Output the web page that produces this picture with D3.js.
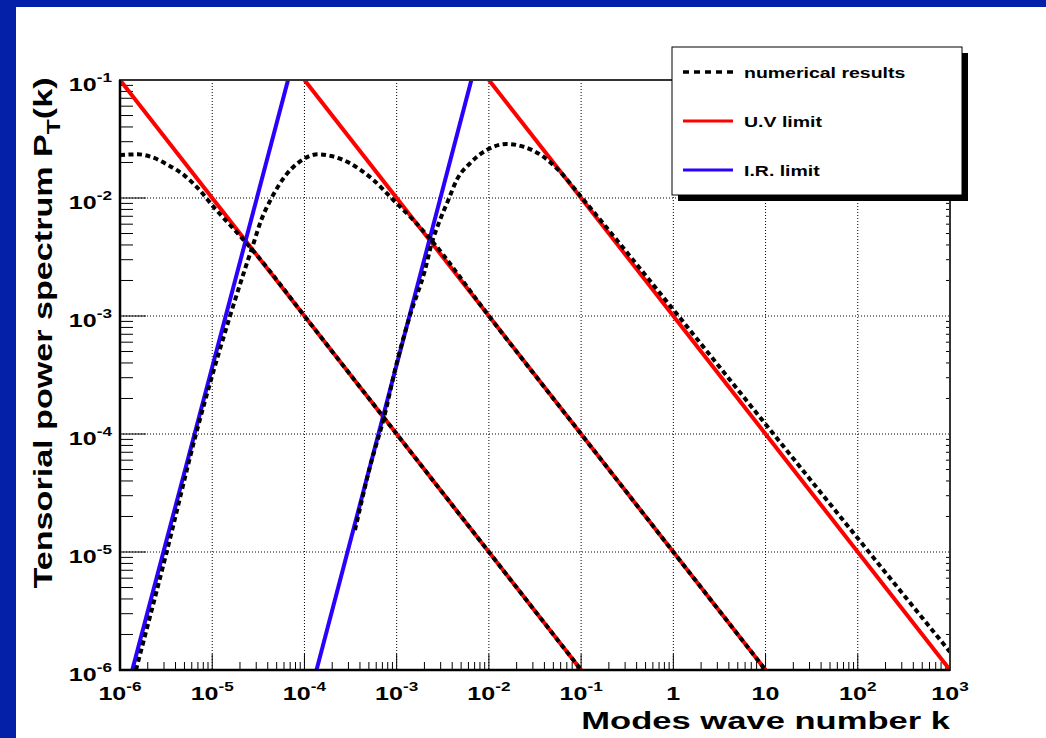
<!DOCTYPE html>
<html>
<head>
<meta charset="utf-8">
<script src="https://cdn.jsdelivr.net/npm/d3@7"></script>
<style>
  html, body { margin: 0; padding: 0; background: #ffffff; }
  svg { display: block; }
  text { font-family: "Liberation Sans", Arial, Helvetica, sans-serif; font-weight: bold; fill: #000; }
</style>
</head>
<body>
<div id="chart"></div>
<script>
// ---------------- data (log10 values) ----------------
const xTickExponents = [-6, -5, -4, -3, -2, -1, 0, 1, 2, 3];
const yTickExponents = [-1, -2, -3, -4, -5, -6];

// numerical results: three curves, [log10 k, log10 P]
const numerical1 = [
  [-6.0, -1.636], [-5.805, -1.630], [-5.65, -1.655], [-5.48, -1.72], [-5.30, -1.81],
  [-5.154, -1.918], [-4.973, -2.087], [-4.756, -2.271], [-4.5, -2.5], [-4.0, -3.0],
  [-3.0, -4.0], [-2.0, -5.0], [-1.0, -6.0]
];
const numerical2 = [
  [-5.827, -6.0], [-5.494, -5.0], [-5.176, -4.0], [-4.807, -3.0], [-4.648, -2.61],
  [-4.558, -2.398], [-4.468, -2.186], [-4.359, -2.003], [-4.214, -1.819], [-4.051, -1.692],
  [-3.853, -1.630], [-3.709, -1.644], [-3.506, -1.706], [-3.253, -1.847], [-3.036, -2.017],
  [-2.820, -2.186], [-2.638, -2.345], [-2.0, -3.0], [-1.0, -4.0], [0.0, -5.0], [1.0, -6.0]
];
const numerical3 = [
  [-3.452, -4.814], [-3.289, -4.277], [-3.126, -3.825], [-3.018, -3.458], [-2.855, -2.994],
  [-2.693, -2.610], [-2.620, -2.384], [-2.530, -2.186], [-2.440, -2.017], [-2.349, -1.847],
  [-2.205, -1.706], [-2.024, -1.593], [-1.807, -1.542], [-1.627, -1.565], [-1.410, -1.650],
  [-1.229, -1.777], [-1.0, -1.99], [0.0, -2.946], [1.0, -3.917], [2.0, -4.884], [3.0, -5.847]
];
// U.V limit lines (P ~ 1/k), endpoints
const uvLimit1 = [[-6, -1], [-1, -6]];
const uvLimit2 = [[-4, -1], [1, -6]];
const uvLimit3 = [[-2, -1], [3, -6]];
// I.R. limit lines (P ~ k^3), endpoints
const irLimit1 = [[-5.867, -6], [-4.178, -1]];
const irLimit2 = [[-3.869, -6], [-2.190, -1]];

const legendLabels = ["numerical results", "U.V limit", "I.R. limit"];

// ---------------- layout ----------------
const W = 1046, H = 738;
const frame = { left: 120, right: 950, top: 80, bottom: 670 };
const SX = 1.32; // horizontal text stretch of the original rendering
const RED = "#ff0000", BLUE = "#2a00ff", BG = "#0420a8";

const svg = d3.select("#chart").append("svg").attr("width", W).attr("height", H);

// background: blue border
svg.append("rect").attr("x", 0).attr("y", 0).attr("width", W).attr("height", H).attr("fill", BG);
svg.append("rect").attr("x", 16).attr("y", 7).attr("width", W - 16).attr("height", H - 7).attr("fill", "#ffffff");

const x = d3.scaleLog().domain([1e-6, 1e3]).range([frame.left, frame.right]);
const y = d3.scaleLog().domain([1e-6, 1e-1]).range([frame.bottom, frame.top]);
const P = v => Math.pow(10, v);

// grid (dotted)
const grid = svg.append("g");
xTickExponents.slice(1, -1).forEach(e => {
  grid.append("line").attr("x1", x(P(e))).attr("x2", x(P(e)))
    .attr("y1", frame.top).attr("y2", frame.bottom)
    .attr("stroke", "#000").attr("stroke-width", 1).attr("stroke-dasharray", "1,2");
});
yTickExponents.slice(1, -1).forEach(e => {
  grid.append("line").attr("y1", y(P(e))).attr("y2", y(P(e)))
    .attr("x1", frame.left).attr("x2", frame.right)
    .attr("stroke", "#000").attr("stroke-width", 1).attr("stroke-dasharray", "1,2");
});

// axes ticks
const axes = svg.append("g");
const xMinor = [], yMinor = [];
for (let e = -6; e < 3; e++) for (let m = 2; m <= 9; m++) xMinor.push(m * P(e));
for (let e = -6; e < -1; e++) for (let m = 2; m <= 9; m++) yMinor.push(m * P(e));

xMinor.forEach(v => {
  axes.append("line").attr("x1", x(v)).attr("x2", x(v)).attr("y1", frame.bottom).attr("y2", frame.bottom - 8)
    .attr("stroke", "#000").attr("stroke-width", 1);
});
xTickExponents.forEach(e => {
  axes.append("line").attr("x1", x(P(e))).attr("x2", x(P(e))).attr("y1", frame.bottom).attr("y2", frame.bottom - 16)
    .attr("stroke", "#000").attr("stroke-width", 1);
});
yMinor.forEach(v => {
  axes.append("line").attr("y1", y(v)).attr("y2", y(v)).attr("x1", frame.left).attr("x2", frame.left + 13)
    .attr("stroke", "#000").attr("stroke-width", 1);
  axes.append("line").attr("y1", y(v)).attr("y2", y(v)).attr("x1", frame.right).attr("x2", frame.right - 4)
    .attr("stroke", "#000").attr("stroke-width", 1);
});
yTickExponents.forEach(e => {
  axes.append("line").attr("y1", y(P(e))).attr("y2", y(P(e))).attr("x1", frame.left).attr("x2", frame.left + 26)
    .attr("stroke", "#000").attr("stroke-width", 1);
});

// curves
const plot = svg.append("g");
svg.append("clipPath").attr("id", "clip").append("rect")
  .attr("x", frame.left).attr("y", frame.top).attr("width", frame.right - frame.left).attr("height", frame.bottom - frame.top);
plot.attr("clip-path", "url(#clip)");
const line = d3.line().x(d => x(P(d[0]))).y(d => y(P(d[1])));
const lineCurved = d3.line().x(d => x(P(d[0]))).y(d => y(P(d[1]))).curve(d3.curveMonotoneX);

[uvLimit1, uvLimit2, uvLimit3].forEach(d => {
  plot.append("path").datum(d).attr("d", line).attr("fill", "none").attr("stroke", RED).attr("stroke-width", 4);
});
[irLimit1, irLimit2].forEach(d => {
  plot.append("path").datum(d).attr("d", line).attr("fill", "none").attr("stroke", BLUE).attr("stroke-width", 4);
});
[numerical1, numerical2, numerical3].forEach(d => {
  plot.append("path").datum(d).attr("d", lineCurved).attr("fill", "none").attr("stroke", "#000")
    .attr("stroke-width", 4).attr("stroke-dasharray", "5,3.5");
});

// frame
svg.append("rect").attr("x", frame.left).attr("y", frame.top)
  .attr("width", frame.right - frame.left).attr("height", frame.bottom - frame.top)
  .attr("fill", "none").attr("stroke", "#333").attr("stroke-width", 2);
svg.append("line").attr("x1", frame.left).attr("x2", frame.left).attr("y1", frame.top).attr("y2", frame.bottom + 1)
  .attr("stroke", "#000").attr("stroke-width", 2.5);
svg.append("line").attr("x1", frame.left - 1).attr("x2", frame.right).attr("y1", frame.bottom).attr("y2", frame.bottom)
  .attr("stroke", "#000").attr("stroke-width", 2.5);

// tick labels
function powLabel(g, e, anchor) {
  const t = g.append("text").attr("text-anchor", anchor);
  if (e === 0) { t.append("tspan").attr("font-size", 19).text("1"); return t; }
  if (e === 1) { t.append("tspan").attr("font-size", 19).text("10"); return t; }
  t.append("tspan").attr("font-size", 19).text("10");
  t.append("tspan").attr("font-size", 13).attr("dy", -9).text(String(e));
  return t;
}
xTickExponents.forEach(e => {
  const g = svg.append("g").attr("transform", `translate(${x(P(e))},700) scale(${SX},1)`);
  powLabel(g, e, "middle");
});
yTickExponents.forEach(e => {
  const g = svg.append("g").attr("transform", `translate(112,${y(P(e)) + 11}) scale(${SX},1)`);
  powLabel(g, e, "end");
});

// axis titles
svg.append("g").attr("transform", `translate(950,729) scale(1.44,1)`)
  .append("text").attr("text-anchor", "end").attr("font-size", 24).text("Modes wave number k");
const yt = svg.append("g").attr("transform", `translate(52,333) rotate(-90) scale(1.365,1)`)
  .append("text").attr("text-anchor", "middle").attr("font-size", 25);
yt.append("tspan").text("Tensorial power spectrum P");
yt.append("tspan").attr("font-size", 18).attr("dy", 8).text("T");
yt.append("tspan").attr("dy", -8).text("(k)");

// legend
const lg = svg.append("g");
lg.append("rect").attr("x", 678).attr("y", 53).attr("width", 290).attr("height", 148).attr("fill", "#000");
lg.append("rect").attr("x", 672).attr("y", 47).attr("width", 290).attr("height", 148)
  .attr("fill", "#fff").attr("stroke", "#000").attr("stroke-width", 1);
const legendY = [72, 121, 170];
const legendStyles = [
  { stroke: "#000", dash: "6,5", width: 3.5 },
  { stroke: RED, dash: null, width: 3 },
  { stroke: BLUE, dash: null, width: 3 }
];
legendLabels.forEach((lab, i) => {
  lg.append("line").attr("x1", 683).attr("x2", 733).attr("y1", legendY[i]).attr("y2", legendY[i])
    .attr("stroke", legendStyles[i].stroke).attr("stroke-width", legendStyles[i].width)
    .attr("stroke-dasharray", legendStyles[i].dash);
  lg.append("g").attr("transform", `translate(744,${legendY[i] + 5.5}) scale(1.3,1)`)
    .append("text").attr("font-size", 15).text(lab);
});
</script>
</body>
</html>
